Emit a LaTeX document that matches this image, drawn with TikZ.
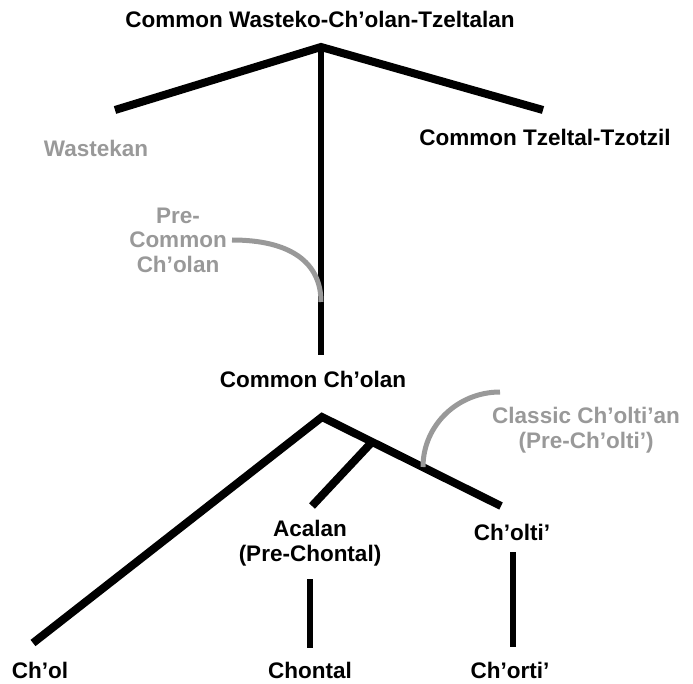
\documentclass[tikz,border=0pt]{standalone}
\usepackage{fontspec}
\setmainfont{Liberation Sans}
\begin{document}
\begin{tikzpicture}[x=1pt,y=-1pt,
  lbl/.style={font=\fontsize{22.5}{24.5}\selectfont\bfseries, align=center, inner sep=0pt},
  glbl/.style={lbl, text=greyc},
  thickbranch/.style={line width=8pt, line join=miter, line cap=butt},
  vline/.style={line width=5.5pt},
  greyarc/.style={draw=greyc, line width=5pt}]
\definecolor{greyc}{RGB}{153,153,153}
\useasboundingbox (0,0) rectangle (693,684);
% labels
\node[lbl] (title) at (320,19) {Common Wasteko-Ch’olan-Tzeltalan};
\node[glbl] (wastekan) at (96,148) {Wastekan};
\node[lbl] (tzeltal) at (545,137) {Common Tzeltal-Tzotzil};
\node[glbl] (precommon) at (178,240) {Pre-\\Common\\Ch’olan};
\node[lbl] (commoncholan) at (313,379) {Common Ch’olan};
\node[glbl] (classic) at (586,430) {Classic Ch’olti’an\\(Pre-Ch’olti’)};
\node[lbl] (acalan) at (310,543) {Acalan\\(Pre-Chontal)};
\node[lbl] (cholti) at (512,532) {Ch’olti’};
\node[lbl] (chol) at (40,670) {Ch’ol};
\node[lbl] (chontal) at (310,670) {Chontal};
\node[lbl] (chorti) at (510,670) {Ch’orti’};
% tree joints
\coordinate (top) at (321,47);
\coordinate (wl) at (115,110);
\coordinate (wr) at (543,110);
\coordinate (vbot) at (321,355);
\coordinate (arcA) at (232,240);
\coordinate (arcAend) at (321,302);
\coordinate (apex) at (322,417);
\coordinate (cholend) at (33,643);
\coordinate (rend) at (501,506);
\coordinate (mid) at (372,442);
\coordinate (midend) at (312,506);
\coordinate (arcB) at (423,467);
\coordinate (arcBend) at (500,392);
\coordinate (acalantop) at (310,579);
\coordinate (acalanbot) at (310,648);
\coordinate (choltitop) at (513,552);
\coordinate (choltibot) at (513,647);
% upper tree
\draw[thickbranch] (wl) -- (top) -- (wr);
\draw[vline] (top) -- (vbot);
\draw[greyarc] (arcA) .. controls (290,240) and (321,262) .. (arcAend);
% lower tree
\draw[thickbranch] (cholend) -- (apex) -- (rend);
\draw[thickbranch] (mid) -- (midend);
\draw[greyarc] (arcB) .. controls (423,425) and (458,392) .. (arcBend);
\draw[vline] (acalantop) -- (acalanbot);
\draw[vline] (choltitop) -- (choltibot);
\end{tikzpicture}
\end{document}
